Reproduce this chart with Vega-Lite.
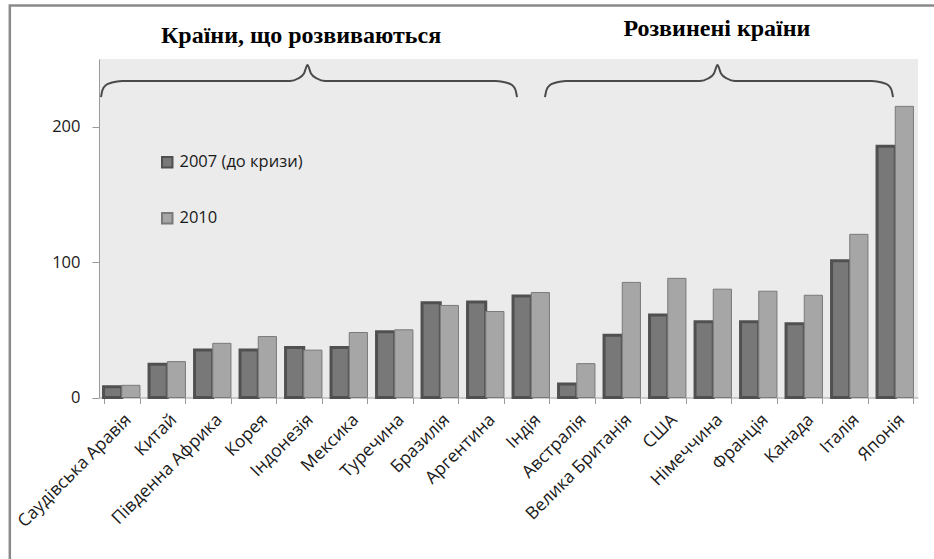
{
  "$schema": "https://vega.github.io/schema/vega-lite/v6.json",
  "autosize": "none",
  "width": 819,
  "height": 338.5,
  "padding": {"left": 99, "top": 59, "right": 16, "bottom": 161.5},
  "background": "white",
  "config": {
    "view": {"fill": "#ebebeb", "stroke": null},
    "font": "Open Sans"
  },
  "datasets": {
    "bars": [
      {"country": "Саудівська Аравія", "year": "2007 (до кризи)", "value": 8},
      {"country": "Саудівська Аравія", "year": "2010", "value": 9},
      {"country": "Китай", "year": "2007 (до кризи)", "value": 24.5},
      {"country": "Китай", "year": "2010", "value": 26.5},
      {"country": "Південна Африка", "year": "2007 (до кризи)", "value": 35},
      {"country": "Південна Африка", "year": "2010", "value": 40},
      {"country": "Корея", "year": "2007 (до кризи)", "value": 35},
      {"country": "Корея", "year": "2010", "value": 45},
      {"country": "Індонезія", "year": "2007 (до кризи)", "value": 37},
      {"country": "Індонезія", "year": "2010", "value": 35},
      {"country": "Мексика", "year": "2007 (до кризи)", "value": 37},
      {"country": "Мексика", "year": "2010", "value": 48},
      {"country": "Туречина", "year": "2007 (до кризи)", "value": 48.5},
      {"country": "Туречина", "year": "2010", "value": 50},
      {"country": "Бразилія", "year": "2007 (до кризи)", "value": 70},
      {"country": "Бразилія", "year": "2010", "value": 68},
      {"country": "Аргентина", "year": "2007 (до кризи)", "value": 70.5},
      {"country": "Аргентина", "year": "2010", "value": 63.5},
      {"country": "Індія", "year": "2007 (до кризи)", "value": 75},
      {"country": "Індія", "year": "2010", "value": 77.5},
      {"country": "Австралія", "year": "2007 (до кризи)", "value": 10},
      {"country": "Австралія", "year": "2010", "value": 25},
      {"country": "Велика Британія", "year": "2007 (до кризи)", "value": 46},
      {"country": "Велика Британія", "year": "2010", "value": 85},
      {"country": "США", "year": "2007 (до кризи)", "value": 61},
      {"country": "США", "year": "2010", "value": 88},
      {"country": "Німеччина", "year": "2007 (до кризи)", "value": 56},
      {"country": "Німеччина", "year": "2010", "value": 80},
      {"country": "Франція", "year": "2007 (до кризи)", "value": 56},
      {"country": "Франція", "year": "2010", "value": 78.5},
      {"country": "Канада", "year": "2007 (до кризи)", "value": 54.5},
      {"country": "Канада", "year": "2010", "value": 75.5},
      {"country": "Італія", "year": "2007 (до кризи)", "value": 101},
      {"country": "Італія", "year": "2010", "value": 120.5},
      {"country": "Японія", "year": "2007 (до кризи)", "value": 185.5},
      {"country": "Японія", "year": "2010", "value": 215}
    ],
    "braces": [
      {"brace": "a", "u": 0.044, "value": 221.8},
      {"brace": "a", "u": 0.077, "value": 227.1},
      {"brace": "a", "u": 0.154, "value": 230.8},
      {"brace": "a", "u": 0.286, "value": 232.6},
      {"brace": "a", "u": 0.505, "value": 233.8},
      {"brace": "a", "u": 4.198, "value": 233.8},
      {"brace": "a", "u": 4.374, "value": 235.6},
      {"brace": "a", "u": 4.505, "value": 239.3},
      {"brace": "a", "u": 4.582, "value": 245.6},
      {"brace": "a", "u": 4.659, "value": 239.3},
      {"brace": "a", "u": 4.791, "value": 235.6},
      {"brace": "a", "u": 4.967, "value": 233.8},
      {"brace": "a", "u": 8.725, "value": 233.8},
      {"brace": "a", "u": 8.945, "value": 232.6},
      {"brace": "a", "u": 9.077, "value": 230.8},
      {"brace": "a", "u": 9.154, "value": 227.1},
      {"brace": "a", "u": 9.187, "value": 221.8},
      {"brace": "b", "u": 9.802, "value": 221.8},
      {"brace": "b", "u": 9.835, "value": 227.1},
      {"brace": "b", "u": 9.912, "value": 230.8},
      {"brace": "b", "u": 10.044, "value": 232.6},
      {"brace": "b", "u": 10.264, "value": 233.8},
      {"brace": "b", "u": 13.209, "value": 233.8},
      {"brace": "b", "u": 13.385, "value": 235.6},
      {"brace": "b", "u": 13.516, "value": 239.3},
      {"brace": "b", "u": 13.593, "value": 245.6},
      {"brace": "b", "u": 13.670, "value": 239.3},
      {"brace": "b", "u": 13.802, "value": 235.6},
      {"brace": "b", "u": 13.978, "value": 233.8},
      {"brace": "b", "u": 16.989, "value": 233.8},
      {"brace": "b", "u": 17.209, "value": 232.6},
      {"brace": "b", "u": 17.341, "value": 230.8},
      {"brace": "b", "u": 17.418, "value": 227.1},
      {"brace": "b", "u": 17.451, "value": 221.8}
    ],
    "titles": [
      {"label": "Країни, що розвиваються", "u": 4.44, "value": 267},
      {"label": "Розвинені країни", "u": 13.58, "value": 272}
    ],
    "frame": [
      {"u": -1.96, "u2": 22, "value": 289.5, "value2": -200}
    ]
  },
  "layer": [
    {
      "data": {"name": "frame"},
      "mark": {"type": "rect", "fill": "transparent", "stroke": "#8a8a8a", "strokeWidth": 2.5, "clip": false},
      "encoding": {
        "x": {"field": "u", "type": "quantitative", "scale": {"domain": [0, 18], "nice": false, "zero": false}, "axis": null},
        "x2": {"field": "u2"},
        "y": {"field": "value", "type": "quantitative", "scale": {"domain": [0, 250], "nice": false}, "title": null},
        "y2": {"field": "value2"}
      }
    },
    {
      "data": {"name": "bars"},
      "mark": {"type": "bar"},
      "encoding": {
        "x": {
          "field": "country", "type": "nominal", "sort": null,
          "scale": {"paddingInner": 0.2, "paddingOuter": 0.1},
          "axis": {
            "title": null, "labelAngle": -45, "labelFontSize": 17.5, "labelColor": "#1a1a1a",
            "labelFont": "Open Sans", "tickBand": "extent", "tickSize": 6, "tickColor": "#9a9a9a",
            "domainColor": "#9a9a9a", "labelPadding": 7
          }
        },
        "xOffset": {"field": "year", "type": "nominal", "scale": {"paddingInner": 0}},
        "y": {
          "field": "value", "type": "quantitative",
          "scale": {"domain": [0, 250], "nice": false},
          "title": null,
          "axis": {
            "values": [0, 100, 200], "grid": false, "tickSize": 7, "tickColor": "#9a9a9a",
            "domainColor": "#9a9a9a", "labelFontSize": 16.5, "labelColor": "#1a1a1a",
            "labelPadding": 12, "labelFont": "Open Sans"
          }
        },
        "fill": {
          "field": "year", "type": "nominal",
          "scale": {"domain": ["2007 (до кризи)", "2010"], "range": ["#787878", "#a6a6a6"]},
          "legend": {
            "title": null, "orient": "none", "legendX": 60, "legendY": 95, "direction": "vertical",
            "rowPadding": 37, "symbolType": "square", "symbolSize": 110, "symbolStrokeWidth": 2,
            "labelFontSize": 16.5, "labelFont": "Open Sans", "labelColor": "#1a1a1a", "labelOffset": 4
          }
        },
        "stroke": {
          "field": "year", "type": "nominal",
          "scale": {"domain": ["2007 (до кризи)", "2010"], "range": ["#505050", "#7a7a7a"]}
        },
        "strokeWidth": {"condition": {"test": "datum.year === '2010'", "value": 1}, "value": 3}
      }
    },
    {
      "data": {"name": "braces"},
      "mark": {"type": "line", "interpolate": "monotone", "stroke": "#4a4a4a", "strokeWidth": 2, "clip": false},
      "encoding": {
        "x": {"field": "u", "type": "quantitative", "scale": {"domain": [0, 18], "nice": false, "zero": false}, "axis": null},
        "y": {"field": "value", "type": "quantitative", "scale": {"domain": [0, 250], "nice": false}, "title": null},
        "detail": {"field": "brace", "type": "nominal"}
      }
    },
    {
      "data": {"name": "titles"},
      "mark": {"type": "text", "font": "Liberation Serif", "fontWeight": "bold", "fontSize": 24, "color": "#000000", "baseline": "middle", "align": "center", "clip": false},
      "encoding": {
        "x": {"field": "u", "type": "quantitative", "scale": {"domain": [0, 18], "nice": false, "zero": false}, "axis": null},
        "y": {"field": "value", "type": "quantitative", "scale": {"domain": [0, 250], "nice": false}, "title": null},
        "text": {"field": "label"}
      }
    }
  ],
  "resolve": {"scale": {"x": "independent"}}
}
